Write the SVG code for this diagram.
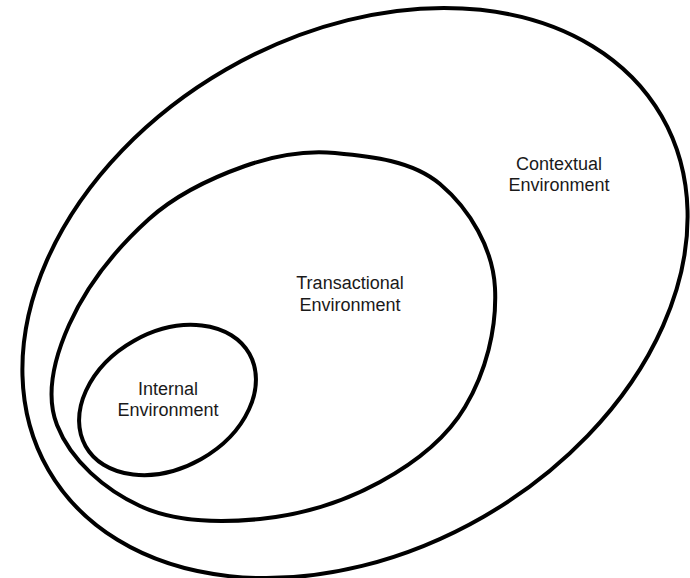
<svg xmlns="http://www.w3.org/2000/svg" width="690" height="578" viewBox="0 0 690 578">
<style>
.ring{fill:none;stroke:#000;stroke-width:4;stroke-linejoin:round}
.lbl{font-family:"Liberation Sans",Arial,sans-serif;font-size:18px;fill:#1a1a1a;text-anchor:middle}
</style>
<rect width="690" height="578" fill="#fff"/>
<g id="contextual">
<ellipse class="ring" cx="355" cy="293" rx="354" ry="258" transform="rotate(-30 355 293)"/>
<text class="lbl" x="559" y="170">Contextual</text>
<text class="lbl" x="559" y="191">Environment</text>
</g>
<g id="transactional">
<path class="ring" d="M335,153 C371.4,156.4 412.1,160.5 440,184 C470,209.3 493,248.8 495,288 C497,328.9 485.9,371.8 465,407 C445.7,439.5 413.2,463.9 380,482 C343.2,502.1 301.7,514.8 260,519 C220,523 176.5,522.9 140,506 C104.9,489.7 71.1,461 57,425 C44.7,393.7 55.3,355.7 69,325 C87.1,284.6 116.1,248.7 149,219 C176.2,194.5 210.5,178.2 245,166 C273.5,155.9 304.8,150.2 335,153 Z"/>
<text class="lbl" x="350" y="289">Transactional</text>
<text class="lbl" x="350" y="311">Environment</text>
</g>
<g id="internal">
<ellipse class="ring" cx="167.5" cy="400" rx="94" ry="68" transform="rotate(-29.4 167.5 400)"/>
<text class="lbl" x="168" y="395">Internal</text>
<text class="lbl" x="168" y="416">Environment</text>
</g>
<g id="connectors"></g>
</svg>
